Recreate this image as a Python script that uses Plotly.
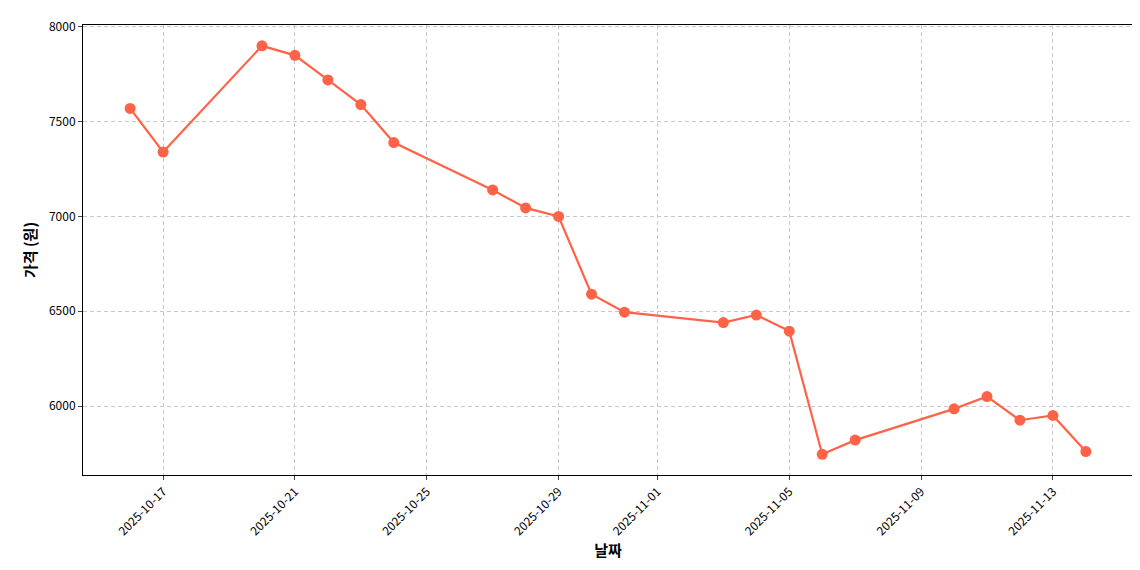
import plotly.graph_objects as go

dates = ["2025-10-16","2025-10-17","2025-10-20","2025-10-21","2025-10-22","2025-10-23","2025-10-24",
         "2025-10-27","2025-10-28","2025-10-29","2025-10-30","2025-10-31","2025-11-03","2025-11-04",
         "2025-11-05","2025-11-06","2025-11-07","2025-11-10","2025-11-11","2025-11-12","2025-11-13","2025-11-14"]
prices = [7570,7340,7900,7850,7720,7590,7390,7140,7045,7000,6590,6495,6440,6480,6395,5745,5820,5985,6050,5925,5950,5760]
tick_vals = ["2025-10-17","2025-10-21","2025-10-25","2025-10-29","2025-11-01","2025-11-05","2025-11-09","2025-11-13"]

fig = go.Figure(go.Scatter(x=dates, y=prices, mode="lines+markers",
    line=dict(color="#FF6347", width=2.2), marker=dict(color="#FF6347", size=11)))
fig.update_layout(width=1140, height=570, plot_bgcolor="white", paper_bgcolor="white",
    margin=dict(l=75, r=15, t=17, b=103, autoexpand=False), showlegend=False,
    font=dict(family="Noto Sans CJK KR", size=12, color="black"))
grid = dict(showgrid=True, gridcolor="#c8c8c8", griddash="4px,3px", showline=True, linecolor="black",
            mirror=True, ticks="outside", ticklen=4, zeroline=False, automargin=False)
fig.update_xaxes(**grid, range=["2025-10-14 13:40","2025-11-15 10:20"], tickvals=tick_vals,
    ticktext=tick_vals, tickangle=-45,
    title=dict(text="<b>날짜</b>", font=dict(size=15), standoff=8))
fig.update_yaxes(**grid, range=[5636, 8010], tickvals=[6000,6500,7000,7500,8000],
    title=dict(text="<b>가격 (원)</b>", font=dict(size=15), standoff=8))
fig.write_html("out.html")
